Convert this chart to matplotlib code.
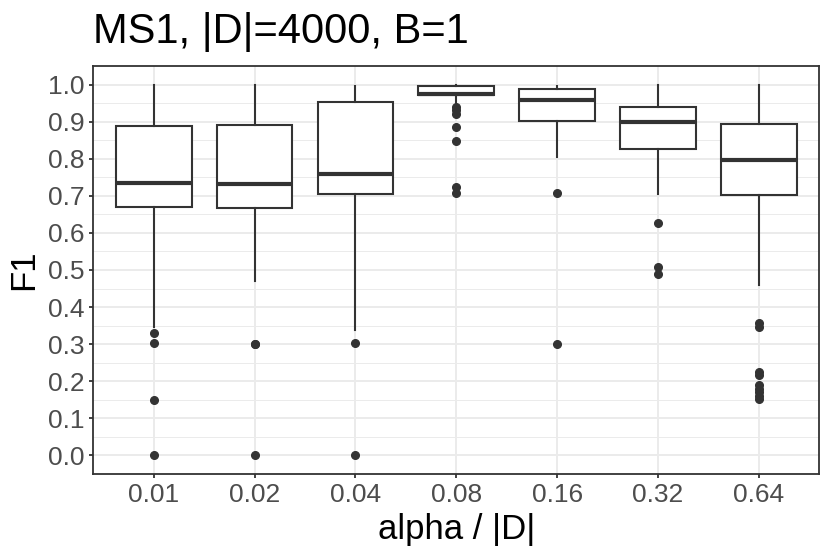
import matplotlib
matplotlib.use("Agg")
import matplotlib.pyplot as plt
import numpy as np

plt.rcParams['font.family'] = ['Liberation Sans', 'DejaVu Sans']

categories = ["0.01", "0.02", "0.04", "0.08", "0.16", "0.32", "0.64"]
whisker_high = [1.0, 1.0, 0.997, 1.0, 0.997, 1.0, 1.0]
q3 = [0.888, 0.891, 0.954, 0.995, 0.988, 0.939, 0.894]
median = [0.734, 0.732, 0.758, 0.974, 0.957, 0.899, 0.796]
q1 = [0.669, 0.668, 0.705, 0.971, 0.903, 0.826, 0.701]
whisker_low = [0.345, 0.469, 0.337, 0.948, 0.804, 0.706, 0.460]
outliers = [
    [0.331, 0.302, 0.149, 0.0],
    [0.301, 0.301, 0.0],
    [0.304, 0.0],
    [0.939, 0.930, 0.920, 0.885, 0.848, 0.723, 0.707],
    [0.707, 0.301],
    [0.628, 0.508, 0.490],
    [0.358, 0.346, 0.225, 0.216, 0.190, 0.180, 0.170, 0.160, 0.151],
]
y_ticks = [0.0, 0.1, 0.2, 0.3, 0.4, 0.5, 0.6, 0.7, 0.8, 0.9, 1.0]

fig = plt.figure(figsize=(8.3, 5.54), dpi=100)
ax = fig.add_axes([0.1124, 0.1444, 0.8747, 0.7365])

stats = []
for i in range(len(categories)):
    stats.append(dict(med=median[i], q1=q1[i], q3=q3[i],
                      whislo=whisker_low[i], whishi=whisker_high[i],
                      fliers=outliers[i]))

dark = '#333333'
positions = np.arange(1, len(categories) + 1)
ax.bxp(stats, positions=positions, widths=0.75, patch_artist=True,
       showcaps=False,
       boxprops=dict(facecolor='white', edgecolor=dark, linewidth=1.5),
       medianprops=dict(color=dark, linewidth=3.0, solid_capstyle='butt'),
       whiskerprops=dict(color=dark, linewidth=1.5),
       flierprops=dict(marker='o', markerfacecolor=dark, markeredgecolor=dark,
                       markersize=5.5, linestyle='none'),
       zorder=3)

ax.set_xlim(0.4, len(categories) + 0.6)
ax.set_ylim(-0.05, 1.05)
ax.set_xticks(positions)
ax.set_xticklabels(categories)
ax.set_yticks(y_ticks)
ax.set_yticklabels([f"{v:.1f}" for v in y_ticks])
ax.set_yticks(np.array(y_ticks[:-1]) + 0.05, minor=True)

ax.set_axisbelow(True)
ax.grid(which='major', color='#EBEBEB', linewidth=1.4)
ax.grid(which='minor', axis='y', color='#EBEBEB', linewidth=0.7)

for s in ax.spines.values():
    s.set_color(dark)
    s.set_linewidth(1.3)

ax.tick_params(which='major', length=2.75, width=1.3, color=dark,
               labelcolor='#4D4D4D', labelsize=19, pad=3.5)
ax.tick_params(which='minor', length=0)

ax.set_xlabel('alpha / |D|', fontsize=25, labelpad=4.5)
ax.set_ylabel('F1', fontsize=25, labelpad=6)

fig.text(0.1124, 0.9215, 'MS1, |D|=4000, B=1', fontsize=30, ha='left', va='baseline')

fig.savefig('out.png', dpi=100)
